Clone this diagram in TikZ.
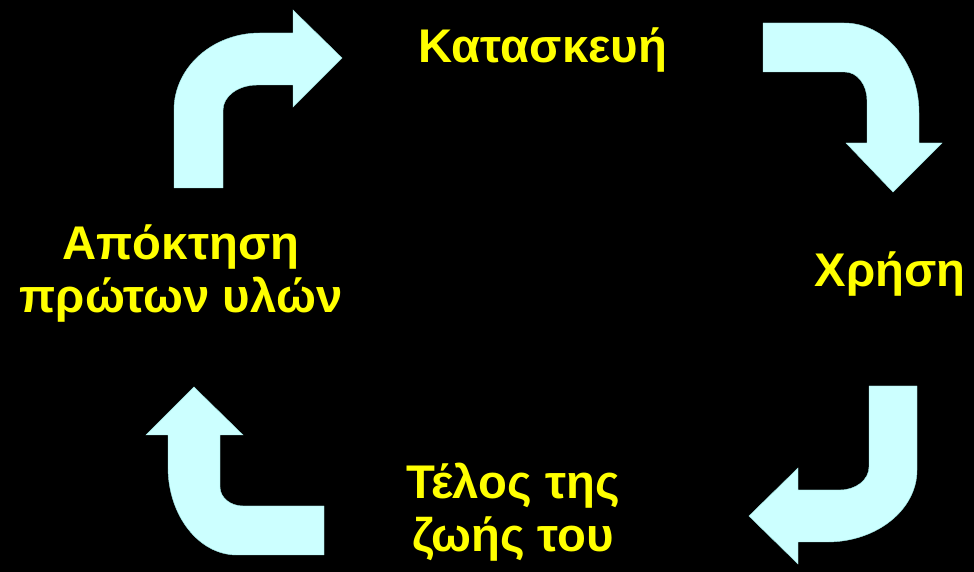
\documentclass[tikz,border=0pt]{standalone}
\usepackage{fontspec}
\setmainfont{Liberation Sans}
\usetikzlibrary{positioning}

\definecolor{arrowcyan}{HTML}{CCFFFF}
\definecolor{labelyellow}{HTML}{FFFF00}

\tikzset{
  bentarrow/.style={fill=arrowcyan, draw=arrowcyan!80!teal, line width=0.3pt},
  stage/.style={text=labelyellow, font=\bfseries\fontsize{33.6}{38.2}\selectfont, align=center, inner sep=0pt}
}

\begin{document}
\begin{tikzpicture}[x=0.025cm, y=0.025cm]

% background
\fill[black] (0,0) rectangle (974,572);
\useasboundingbox (0,0) rectangle (974,572);

% stages
\node[stage, anchor=base] (constr) at (543,509) {Κατασκευή};
\node[stage, anchor=base] (use) at (890,285) {Χρήση};
\node[stage, anchor=base] (eol) at (513,20) {Τέλος της\\ζωής του};
\node[stage, anchor=base] (raw) at (181,259) {Απόκτηση\\πρώτων υλών};

% arrow up and right
\draw[bentarrow] (174,384) -- (174,462) arc[start angle=180, end angle=90, x radius=86, y radius=77]
  -- (293,539) -- (293,562) -- (342,514) -- (293,465) -- (293,487) -- (257,487)
  arc[start angle=90, end angle=180, x radius=34, y radius=25] -- (223,384) -- cycle;

% arrow right and down
\draw[bentarrow] (763,549) -- (844,549) arc[start angle=90, end angle=0, x radius=75, y radius=90]
  -- (919,429) -- (942,429) -- (893,380) -- (846,429) -- (867,429) -- (867,472)
  arc[start angle=0, end angle=90, x radius=22, y radius=28] -- (763,500) -- cycle;

% arrow down and left
\draw[bentarrow] (869,186) -- (917,186) -- (917,102) arc[start angle=0, end angle=-90, x radius=90, y radius=72]
  -- (798,30) -- (798,8) -- (749,56) -- (798,104) -- (798,82) -- (840,82)
  arc[start angle=-90, end angle=0, x radius=29, y radius=23] -- cycle;

% arrow left and up
\draw[bentarrow] (324,17) -- (237,17) arc[start angle=-90, end angle=-180, x radius=69, y radius=88]
  -- (168,137) -- (146,137) -- (194,185) -- (243,137) -- (220,137) -- (220,85)
  arc[start angle=180, end angle=270, x radius=23, y radius=19] -- (324,66) -- cycle;

\end{tikzpicture}
\end{document}
